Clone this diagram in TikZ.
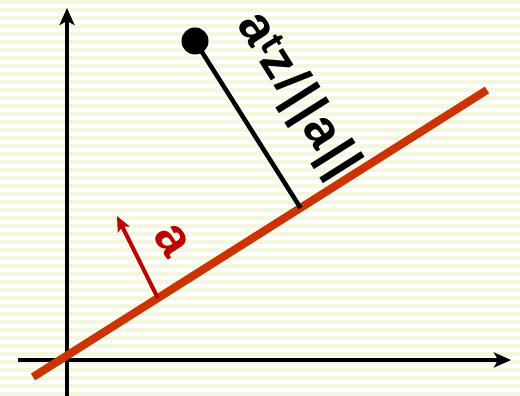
\documentclass[tikz,border=0pt]{standalone}
\usepackage{fontspec}
\setmainfont{Liberation Sans}
\usetikzlibrary{arrows.meta,calc}

\definecolor{stripe}{HTML}{F4F7DE}
\definecolor{hyperplane}{HTML}{CC3300}
\definecolor{normalred}{HTML}{C00000}

\begin{document}
\begin{tikzpicture}[x=1pt,y=-1pt,
axis/.style={line width=4pt,-{Stealth[length=17pt,width=15pt,inset=4pt]}},
lbl/.style={font=\fontsize{52}{52}\selectfont\bfseries\addfontfeature{LetterSpace=5},rotate=-57.7,inner sep=0pt}]
% striped background
\fill[white] (0,0) rectangle (520,394);
\foreach \y in {0,8,...,392}
  \fill[stripe] (0,\y) rectangle (520,\y+4);
\useasboundingbox (0,0) rectangle (520,394);

% axes
\coordinate (xs) at (18,360);
\coordinate (xe) at (511,360);
\coordinate (ys) at (67,396);
\coordinate (ye) at (67,8);
\draw[axis] (xs) -- (xe);
\draw[axis] (ys) -- (ye);

% hyperplane
\coordinate (p1) at (33,377);
\coordinate (p2) at (487,90);
\draw[hyperplane,line width=8pt] (p1) -- (p2);

% point and its distance
\node[circle,fill,inner sep=0pt,minimum size=27pt] (z) at (195,41) {};
\coordinate (foot) at ($(p1)!(z)!(p2)$);
\draw[line width=4.5pt] (z.center) -- (foot);
\node[lbl] (dist) at (297,96) {a\textsuperscript{t}z/||a||};

% normal vector
\coordinate (n0) at ($(p1)!0.275!(p2)$);
\coordinate (ntip) at (117,216);
\draw[normalred,line width=4pt,-{Stealth[length=15pt,width=13pt,inset=3pt]}] (n0) -- (ntip);
\node[lbl,normalred] (avec) at (172,240) {a};
\end{tikzpicture}
\end{document}
